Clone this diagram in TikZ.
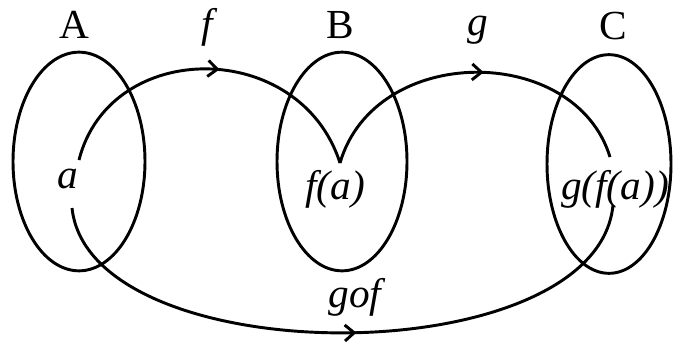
\documentclass[tikz,border=0pt]{standalone}
\usepackage{fontspec}
\setmainfont{Liberation Serif}
\usetikzlibrary{arrows.meta,shapes.geometric,decorations.markings}
\tikzset{
  setc/.style={draw,ellipse,line width=2.2pt,inner sep=0pt,minimum width=#1},
  lbl/.style={font=\fontsize{31}{36}\selectfont,anchor=base,inner sep=0pt},
  ilbl/.style={lbl,font=\fontsize{31}{36}\selectfont\itshape},
  map/.style={line width=2.2pt,postaction={decorate,decoration={markings,
    mark=at position #1 with {\arrow{Straight Barb[length=7pt,width=12pt,line width=2.2pt]}}}}}
}
\begin{document}
\begin{tikzpicture}[x=0.75pt,y=-0.75pt]
\useasboundingbox (0,0) rectangle (673,349);
\node[setc=99pt,minimum height=164pt] (setA) at (79,161.5) {};
\node[setc=97.5pt,minimum height=164pt] (setB) at (342,161.5) {};
\node[setc=93pt,minimum height=164pt] (setC) at (609,164) {};
\node[lbl] (labA) at (74,39) {A};
\node[lbl] (labB) at (340,39) {B};
\node[lbl] (labC) at (613,40) {C};
\node[ilbl] (ela) at (68,188) {a};
\node[ilbl] (elfa) at (335,199) {f(a)};
\node[ilbl] (elgfa) at (615,199) {g(f(a))};
\node[ilbl] (mf) at (207,38) {f};
\node[ilbl] (mg) at (478,36) {g};
\node[ilbl] (mgf) at (355,307) {gof};
\coordinate (pa) at (79,160);
\coordinate (pfa) at (340,163);
\coordinate (pgfa) at (610,157);
\coordinate (qa) at (72,208);
\coordinate (qgfa) at (613,205);
\draw[map=0.53] (pa) .. controls +(31,-122) and +(-40,-125) .. (pfa);
\draw[map=0.53] (pfa) .. controls +(35,-120) and +(-35,-114) .. (pgfa);
\draw[map=0.52] (qa) .. controls +(18,167) and +(-16,170) .. (qgfa);
\end{tikzpicture}
\end{document}
